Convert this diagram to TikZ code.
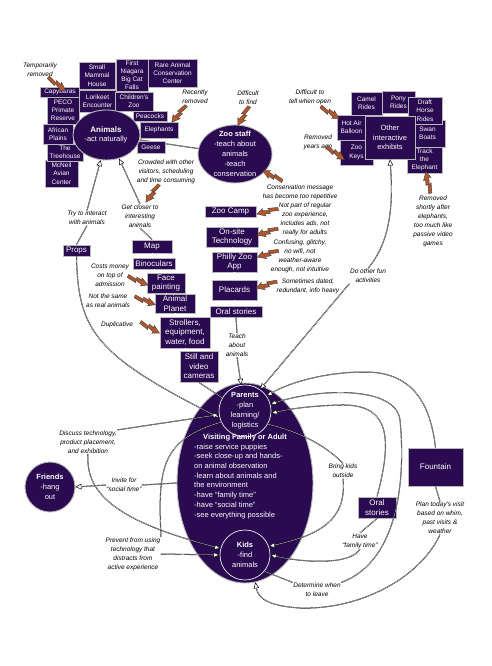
\documentclass[tikz,border=0pt]{standalone}
\usepackage{fontspec}
\setmainfont{Liberation Sans}
\usetikzlibrary{arrows.meta,shapes.geometric}
\pgfdeclarelayer{background}
\pgfsetlayers{background,main}
\definecolor{zp}{RGB}{42,10,80}
\definecolor{rust}{RGB}{178,86,44}
\tikzset{
 box/.style={rectangle, fill=zp, draw=gray!55, line width=0.9pt, text=white, align=center, inner sep=0.5pt, font=\fontsize{6.5}{8.2}\selectfont},
 cbox/.style={box, font=\fontsize{8}{9.5}\selectfont},
 note/.style={align=center, inner sep=0.5pt, text=black, font=\fontsize{6.5}{9}\selectfont\itshape},
 shp/.style={ellipse, fill=zp, draw=gray!55, line width=0.9pt, inner sep=0pt},
 ring/.style={circle, draw=white!85!gray, line width=0.7pt, inner sep=0pt},
 wtext/.style={text=white, align=center, inner sep=0pt, font=\fontsize{7.5}{10}\selectfont},
 lk/.style={draw=black, line width=1.0pt, postaction={draw=white, line width=0.3pt}},
 lka/.style={draw=black, line width=1.0pt, -{Triangle[width=5.5pt,length=6pt,fill=white,line width=0.5pt]}, postaction={draw=white, line width=0.3pt, arrows=-, shorten >=5pt}},
 bolt/.pic={\filldraw[fill=rust, draw=black!75, line width=0.4pt] (-11,1.6) -- (-1,3) -- (-2.2,0.8) -- (5,2) -- (4.4,4) -- (11,0) -- (2.6,-4) -- (3.4,-1.8) -- (-2.6,-2.6) -- (-1.4,-0.4) -- (-11,-1.6) -- cycle;},
 bl/.style={pos=.5, sloped, allow upside down}
}
\begin{document}
\begin{tikzpicture}[x=1pt,y=-1pt]
\begin{pgfonlayer}{background}
\fill[white] (0,0) rectangle (492,666);
\end{pgfonlayer}
\useasboundingbox (0,0) rectangle (492,666);

% ---------- Animals cluster ----------
\node[box, minimum width=40, minimum height=10] (capy) at (60,92) {Capybaras};
\node[box, minimum width=33, minimum height=27] (mcn) at (61.5,173.5) {McNeil\\Avian\\Center};
\node[box, minimum width=36, minimum height=27] (smh) at (97,75.5) {Small\\Mammal\\House};
\node[box, minimum width=32, minimum height=32] (fnb) at (132,75) {First\\Niagara\\Big Cat\\Falls};
\node[box, minimum width=49, minimum height=28] (rare) at (172.5,73) {Rare Animal\\Conservation\\Center};
\node[box, minimum width=37, minimum height=22] (lor) at (97.5,101) {Lorikeet\\Encounter};
\node[box, minimum width=38, minimum height=19] (cz) at (134,101.5) {Children's\\Zoo};
\node[box, minimum width=34, minimum height=10] (pea) at (150,116) {Peacocks};
\node[box, minimum width=38, minimum height=16] (ele) at (159,130) {Elephants};
\node[box, minimum width=28, minimum height=12] (gee) at (151,147) {Geese};
\node[box, minimum width=32, minimum height=27] (peco) at (63,110.5) {PECO\\Primate\\Reserve};
\node[box, minimum width=30, minimum height=20] (afr) at (58,134) {African\\Plains};
\node[box, minimum width=36, minimum height=17] (tree) at (65,152.5) {The\\Treehouse};
\node[shp, minimum width=67, minimum height=50] (an) at (106.5,135) {};
\node[wtext, font=\fontsize{7.5}{9.3}\selectfont] at (106,135) {\textbf{\fontsize{8}{9.3}\selectfont Animals}\\-act naturally};

% ---------- Zoo staff ----------
\node[shp, minimum width=74, minimum height=58] (zs) at (235,154) {};
\node[wtext] at (235,154) {\textbf{Zoo staff}\\-teach about\\animals\\-teach\\conservation};

% ---------- Other interactive exhibits cluster ----------
\node[box, minimum width=31, minimum height=23] (camel) at (366.5,103.5) {Camel\\Rides};
\node[box, minimum width=33, minimum height=22] (pony) at (398.5,102) {Pony\\Rides};
\node[box, minimum width=35, minimum height=27] (swan) at (427.5,133.5) {Swan\\Boats};
\node[box, minimum width=34, minimum height=27] (draft) at (425,110.5) {Draft\\Horse\\Rides};
\node[box, minimum width=29, minimum height=25] (hot) at (351.5,127.5) {Hot Air\\Balloon};
\node[box, minimum width=33, minimum height=25] (keys) at (356.5,152.5) {Zoo\\Keys};
\node[box, minimum width=35, minimum height=26] (track) at (424.5,160) {Track\\the\\Elephant};
\node[box, minimum width=50, minimum height=43, font=\fontsize{7.5}{9.5}\selectfont] (oie) at (390,137.5) {Other\\interactive\\exhibits};

% ---------- chains ----------
\node[cbox, minimum width=40, minimum height=13] (map) at (152,246.5) {Map};
\node[cbox, minimum width=42, minimum height=11] (bino) at (154,263.5) {Binoculars};
\node[cbox, minimum width=38, minimum height=20] (face) at (166,283) {Face\\painting};
\node[cbox, minimum width=40, minimum height=19] (ap) at (175,303.5) {Animal\\Planet};
\node[cbox, minimum width=50, minimum height=31] (str) at (185,332.5) {Strollers,\\equipment,\\water, food};
\node[cbox, minimum width=38, minimum height=31] (cam) at (199,366.5) {Still and\\video\\cameras};
\node[cbox, minimum width=27, minimum height=11] (props) at (76.5,250.5) {Props};
\node[cbox, minimum width=51, minimum height=11] (zc) at (230.5,211.5) {Zoo Camp};
\node[cbox, minimum width=52, minimum height=20] (ost) at (232,237) {On-site\\Technology};
\node[cbox, minimum width=45, minimum height=20] (app) at (234.5,262) {Philly Zoo\\App};
\node[cbox, minimum width=45, minimum height=20] (plac) at (234.5,290) {Placards};
\node[cbox, minimum width=52, minimum height=11] (oral) at (236,311.5) {Oral stories};
\node[cbox, minimum width=38, minimum height=21] (oral2) at (377,507.5) {Oral\\stories};
\node[cbox, minimum width=55, minimum height=38] (fount) at (435.5,467) {Fountain};

% ---------- family ----------
\node[shp, minimum width=136, minimum height=200] (fam) at (245,483) {};
\node[ring, minimum size=52] (par) at (245,411) {};
\node[wtext] at (245,411) {\textbf{Parents}\\-plan\\learning/\\logistics};
\node[ring, minimum size=50] (kids) at (245,555) {};
\node[wtext] at (245,555) {\textbf{Kids}\\-find\\animals};
\node[wtext, font=\fontsize{7.5}{9.7}\selectfont\bfseries] at (245,438) {Visiting Family or Adult};
\node[wtext, align=left, anchor=north west, font=\fontsize{7.5}{9.7}\selectfont] at (194,443.5) {-raise service puppies\\-seek close-up and hands-\\on animal observation\\-learn about animals and\\the environment\\-have ``family time''\\-have ``social time''\\-see everything possible};
\node[circle, fill=zp, draw=gray!55, line width=0.9pt, minimum size=50, inner sep=0pt] (fr) at (50,487) {};
\node[wtext] at (50,487) {\textbf{Friends}\\-hang\\out};

% ---------- notes ----------
\node[note] (temp) at (40,70) {Temporarily\\removed};
\node[note] (recent) at (195,97) {Recently\\removed};
\node[note] (dfind) at (248,98) {Difficult\\to find};
\node[note] (dtell) at (310,97) {Difficult to\\tell when open};
\node[note] (ryago) at (318,142) {Removed\\years ago};
\node[note] (consmsg) at (300,192) {Conservation message\\has become too repetitive};
\node[note] (crowd) at (166,172) {Crowded with other\\visitors, scheduling\\and time consuming};
\node[note] (gc) at (140,216) {Get closer to\\interesting\\animals};
\node[note] (try) at (87,218) {Try to interact\\with animals};
\node[note] (nzc) at (305,219) {Not part of regular\\zoo experience,\\includes ads, not\\really for adults};
\node[note] (nost) at (300,256) {Confusing, glitchy,\\no wifi, not\\weather-aware\\enough, not intuitive};
\node[note] (nplac) at (308,286) {Sometimes dated,\\redundant, info heavy};
\node[note] (ncost) at (110,275) {Costs money\\on top of\\admission};
\node[note] (nsame) at (108,301) {Not the same\\as real animals};
\node[note] (ndup) at (117,325) {Duplicative};
\node[note] (teach) at (237,345) {Teach\\about\\animals};
\node[note] (doo) at (368,276) {Do other fun\\activities};
\node[note] (nrem) at (433,221) {Removed\\shortly after\\elephants,\\too much like\\passive video\\games};
\node[note] (disc) at (88,442) {Discuss technology,\\product placement,\\and exhibition};
\node[note] (inv) at (124,485) {Invite for\\``social time''};
\node[note] (bring) at (343,471) {Bring kids\\outside};
\node[note] (have) at (360,541) {Have\\``family time''};
\node[note] (plan) at (440,518) {Plan today's visit\\based on whim,\\past visits \&\\weather};
\node[note] (det) at (317,590) {Determine when\\to leave};
\node[note] (prev) at (133,554) {Prevent from using\\technology that\\distracts from\\active experience};

% ---------- connectors ----------
\begin{pgfonlayer}{background}
\draw[lk] (an) -- (zs);
\end{pgfonlayer}
\draw[lka] (try.north) -- (an.257);
\draw[lka] (gc.north) -- (an.298);
\draw[lk] (try.south) -- (props.north);
\draw[lk] (gc.south) -- (map.north);
\draw[lk] (map.south) -- (map.south |- bino.north);
\draw[lk] (bino.south) -- (bino.south |- face.north);
\draw[lk] (face.south) -- (face.south |- ap.north);
\draw[lk] (ap.south) -- (ap.south |- str.north);
\draw[lk] (str.south) -- (str.south |- cam.north);
\draw[lk] (cam.south) -- (par.150);
\draw[lk] (zs.south) -- (zs.south |- zc.north);
\draw[lk] (zc.south) -- (zc.south |- ost.north);
\draw[lk] (ost.south) -- (ost.south |- app.north);
\draw[lk] (app.south) -- (app.south |- plac.north);
\draw[lk] (plac.south) -- (plac.south |- oral.north);
\draw[lk] (oral.south) -- (teach.north);
\draw[lka] (teach.south) -- (par);
\draw[lka] (props.south) .. controls (78,330) and (95,355) .. (par.195);
\draw[lka] (disc.north east) -- (par.188);
\draw[lka] (disc.south) .. controls (85,495) and (120,522) .. (kids.165);
\draw[lk] (par.205) .. controls (160,440) and (158,470) .. (prev.north east);
\draw[lka] (prev.east) -- (kids.west);
\draw[lk] (fam.west) -- (inv.east);
\draw[lka] (inv.west) -- (fr.east);
\draw[lk] (par.330) .. controls (300,432) and (325,445) .. (bring.north);
\draw[lka] (bring.south) .. controls (347,520) and (320,535) .. (kids.20);
\draw[lk] (oral2.south) -- (have.north);
\draw[lka] (have.south) .. controls (350,566) and (300,562) .. (kids.east);
\draw[lka] (oral2.north) .. controls (395,430) and (385,404) .. (340,405) .. controls (305,406) and (285,410) .. (par.355);
\draw[lka] (det.north east) .. controls (402,560) and (405,470) .. (400,420) .. controls (396,386) and (320,388) .. (par.15);
\draw[lka] (fount.north) .. controls (430,400) and (410,372) .. (365,372) .. controls (320,372) and (285,385) .. (par.35);
\draw[lka] (doo.south west) -- (par.55);
\draw[lka] (doo.north) .. controls (392,240) and (393,200) .. (oie.south);
\draw[lk] (fount.south) -- (plan.north);
\draw[lka] (plan.south) .. controls (420,578) and (360,610) .. (300,608) .. controls (268,606) and (258,598) .. (fam.276);
\draw[lk] (kids.-40) -- (det.north west);

% ---------- lightning bolts ----------
\path (48,77) -- (66,91) pic[bl]{bolt};
\path (186,106) -- (172,122) pic[bl]{bolt};
\path (249,107) -- (238,125) pic[bl]{bolt};
\path (320,106) -- (340,119) pic[bl]{bolt};
\path (326,146) -- (345,160) pic[bl]{bolt};
\path (430,192) -- (426,173) pic[bl]{bolt};
\path (282,181) -- (263,171) pic[bl]{bolt};
\path (159,185) -- (146,202) pic[bl]{bolt};
\path (278,209) -- (257,214) pic[bl]{bolt};
\path (277,229) -- (258,235) pic[bl]{bolt};
\path (278,251) -- (258,257) pic[bl]{bolt};
\path (276,282) -- (257,288) pic[bl]{bolt};
\path (128,276) -- (148,285) pic[bl]{bolt};
\path (134,296) -- (156,305) pic[bl]{bolt};
\path (139,321) -- (161,334) pic[bl]{bolt};
\end{tikzpicture}
\end{document}
